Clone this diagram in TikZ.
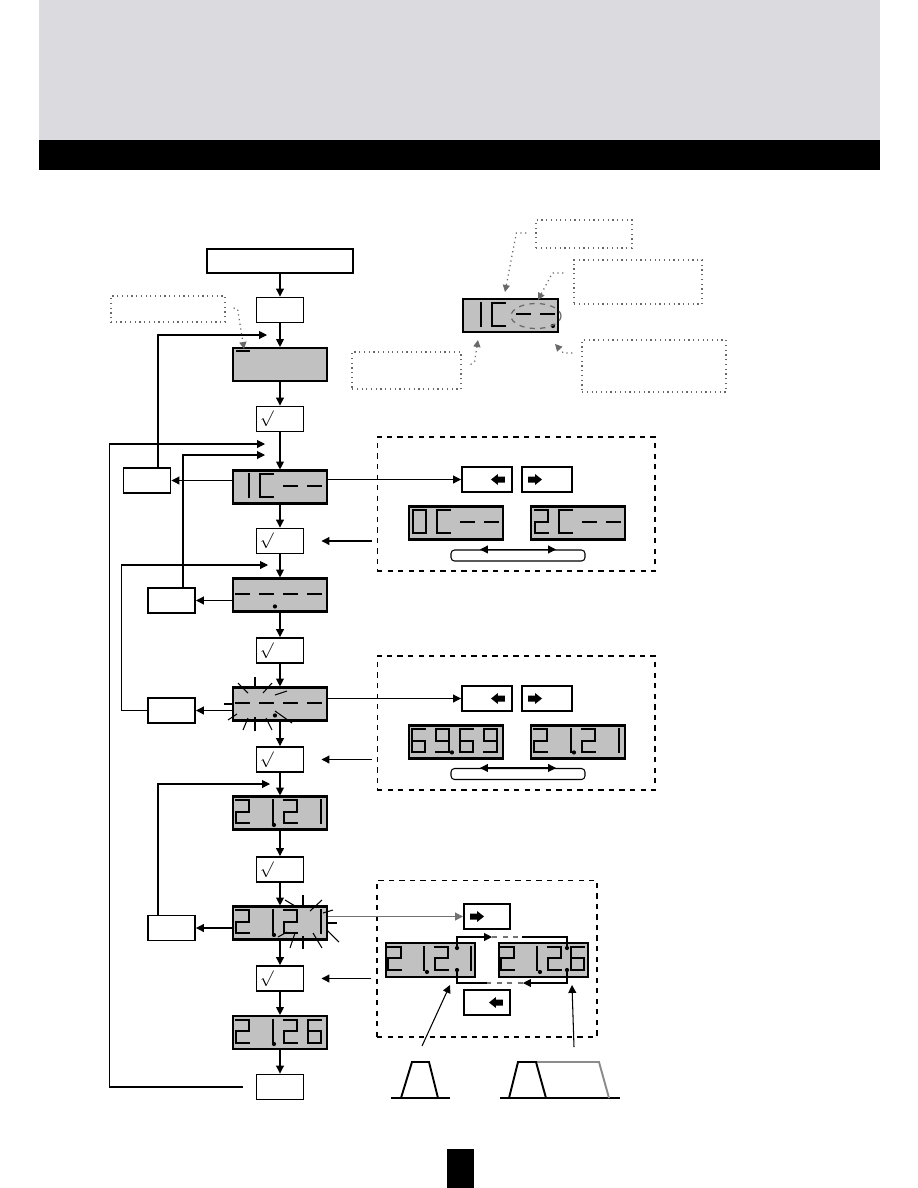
\documentclass[tikz,border=0pt]{standalone}
\usepackage{amsmath,amssymb}
\usetikzlibrary{positioning,calc}
\usetikzlibrary{arrows.meta}
\definecolor{HeadGray}{RGB}{219,219,223}
\definecolor{LcdGray}{RGB}{193,193,193}
\definecolor{NoteGray}{RGB}{105,105,105}
\tikzset{
  box/.style={draw=black,line width=1.1pt,fill=white,inner sep=0pt,minimum width=0.94cm,minimum height=0.5cm},
  ok/.style={box,text width=0.8cm,align=left,font=\small},
  key/.style={box,minimum width=1cm},
  lcd/.style={draw=black,line width=1.2pt,fill=LcdGray,inner sep=0pt,minimum width=1.88cm,minimum height=0.66cm},
  note/.style={draw=NoteGray,dotted,line width=0.7pt,inner sep=0pt},
  panel/.style={draw=black,dashed,line width=0.6pt,inner sep=0pt},
  pill/.style={draw=black,line width=0.6pt,rounded corners=2pt,inner sep=0pt,minimum width=2.68cm,minimum height=0.22cm},
}
\tikzset{arr/.style={draw=black,line width=0.6pt,-{Triangle[length=4.5pt,width=4.5pt]}}, dbl/.style={draw=black,line width=0.6pt,{Triangle[length=4.5pt,width=4.5pt]}-{Triangle[length=4.5pt,width=4.5pt]}},ptr/.style={draw=NoteGray,dotted,line width=0.7pt,-{Triangle[length=4pt,width=4pt]}},seg/.style={line width=1.1pt,line cap=rect},ray/.style={line width=0.6pt},dot/.style={circle,fill=black,inner sep=0pt,minimum size=2.4pt}}

\newcommand\lcdnum[7]{%
  \foreach \segs [count=\i from 0] in {{#4},{#5},{#6},{#7}}{%
    \begin{scope}[shift={($(#1.north west)+(#2+\i*#3,5)$)}]
      \coordinate (sa1) at (0,0);     \coordinate (sa2) at (13,0);
      \coordinate (sb1) at (13,0);    \coordinate (sb2) at (13,11.5);
      \coordinate (sc1) at (13,11.5); \coordinate (sc2) at (13,23);
      \coordinate (sd1) at (0,23);    \coordinate (sd2) at (13,23);
      \coordinate (se1) at (0,11.5);  \coordinate (se2) at (0,23);
      \coordinate (sf1) at (0,0);     \coordinate (sf2) at (0,11.5);
      \coordinate (sg1) at (0,11.5);  \coordinate (sg2) at (13,11.5);
      \foreach \s in \segs {\draw[seg] (s\s1) -- (s\s2);}
    \end{scope}}}
\newcommand\lcddot[3]{\fill ($(#1.north west)+(#2,#3)$) circle (1.2pt);}
\newcommand\leftkey[1]{\fill ($(#1.east)+(-22,0)$) -- ++(7,-5.5) -- ++(0,2.5) -- ++(7,0) -- ++(0,6) -- ++(-7,0) -- ++(0,2.5) -- cycle;}
\newcommand\rightkey[1]{\fill ($(#1.west)+(21,0)$) -- ++(-7,-5.5) -- ++(0,2.5) -- ++(-7,0) -- ++(0,6) -- ++(7,0) -- ++(0,2.5) -- cycle;}

\begin{document}
\begin{tikzpicture}[x=0.02cm,y=-0.02cm]
\useasboundingbox (0,0) rectangle (918,1188);
\fill[HeadGray] (39,0) rectangle (880,140);
\fill[black] (39,140) rectangle (880,170);
\fill[black] (447,1149) rectangle (474,1188);

\node[box,minimum width=2.92cm,minimum height=0.48cm] (start) at (280,261) {};
\node[box] (menu) at (280,310) {};
\node[lcd] (lcdA) at (280,364.5) {};
\node[ok] (okA) at (280,419) {$\surd$};
\node[lcd] (lcdB) at (280,487) {};
\node[ok] (okB) at (280,541) {$\surd$};
\node[lcd] (lcdC) at (280,595) {};
\node[ok] (okC) at (280,650.5) {$\surd$};
\node[lcd] (lcdD) at (280,704) {};
\node[ok] (okD) at (280,759.5) {$\surd$};
\node[lcd] (lcdE) at (280,813) {};
\node[ok] (okE) at (280,869.5) {$\surd$};
\node[lcd] (lcdF) at (280,923) {};
\node[ok] (okF) at (280,978.5) {$\surd$};
\node[lcd] (lcdG) at (280,1032.5) {};
\node[box] (stop) at (280,1087) {};
\node[box] (escB) at (147,480.5) {};
\node[box] (escC) at (171.5,600.5) {};
\node[box] (escD) at (171.5,710.5) {};
\node[box] (escF) at (171.5,928) {};

\foreach \a/\b in {start/menu,menu/lcdA,lcdA/okA,okA/lcdB,lcdB/okB,okB/lcdC,lcdC/okC,okC/lcdD,lcdD/okD,okD/lcdE,lcdE/okE,okE/lcdF,lcdF/okF,okF/lcdG,lcdG/stop}
  \draw[arr] (\a) -- (\b);
\draw[arr] (lcdB.west |- escB) -- (escB.east);
\draw[arr] (lcdC.west |- escC) -- (escC.east);
\draw[arr] (lcdD.west |- escD) -- (escD.east);
\draw[arr] (lcdF.west |- escF) -- (escF.east);

\coordinate (backA) at (267,335);
\coordinate (backB) at (265,455);
\coordinate (backC) at (268,565);
\coordinate (backD) at (270,784);
\coordinate (backS) at (265,444);
\draw[arr] ($(escB.north)+(11,0)$) |- (backA);
\draw[arr] ($(escC.north)+(11.5,0)$) |- (backB);
\draw[arr] (escD.west) -- ++(-26,0) |- (backC);
\draw[arr] ($(escF.north)+(-13.5,0)$) |- (backD);
\draw[arr] ($(stop.west)+(-13,0)$) -- ++(-133,0) |- (backS);

\draw[seg] ($(lcdA.north west)+(5,4)$) -- ++(12,0);
\lcdnum{lcdB}{4}{24}{b,c}{a,f,e,d}{g}{g}
\lcdnum{lcdC}{4}{24}{g}{g}{g}{g}
\lcddot{lcdC}{43}{29}
\lcdnum{lcdD}{4}{24}{g}{g}{g}{g}
\lcddot{lcdD}{43}{29}
\lcdnum{lcdE}{4}{24}{a,b,g,e,d}{b,c}{a,b,g,e,d}{b,c}
\lcddot{lcdE}{42}{29.5}
\lcdnum{lcdF}{4}{24}{a,b,g,e,d}{b,c}{a,b,g,e,d}{b,c}
\lcddot{lcdF}{42}{29.5}
\lcdnum{lcdG}{4}{24}{a,b,g,e,d}{b,c}{a,b,g,e,d}{a,f,g,e,d,c}
\lcddot{lcdG}{42}{29}

\foreach \xa/\ya/\xb/\yb in {238/683/248/693,255/677/255/689,272/683/263/693,275/695/287/691,224/704/233/704,228/720/237/714,243/730/248/718,255/731/255/717,266/718/272/730,275/711/292/723}
  \draw[ray] (\xa,\ya) -- (\xb,\yb);
\foreach \xa/\ya/\xb/\yb in {285/900/295/906,303/895/303/908,322/900/310/911,323/913/333/910,327/923/337/923,327/930/339/942,313/933/322/948,303/936/303/949,295/933/290/948,287/932/278/937}
  \draw[ray] (\xa,\ya) -- (\xb,\yb);

\node[panel,minimum width=5.56cm,minimum height=2.68cm] (panelA) at (516,504) {};
\node[panel,minimum width=5.56cm,minimum height=2.68cm] (panelB) at (516,723) {};
\node[panel,minimum width=4.4cm,minimum height=3.14cm] (panelC) at (487,958.5) {};

\node[key] (keyLA) at (487,479.5) {};
\node[key] (keyRA) at (547,479.5) {};
\node[key] (keyLB) at (487,698.5) {};
\node[key] (keyRB) at (547,698.5) {};
\node[key,minimum width=0.92cm] (keyRC) at (487,916.5) {};
\node[key,minimum width=0.92cm] (keyLC) at (487,1002.5) {};
\leftkey{keyLA}
\rightkey{keyRA}
\leftkey{keyLB}
\rightkey{keyRB}
\rightkey{keyRC}
\leftkey{keyLC}

\draw[arr] (lcdB.east |- keyLA) -- (keyLA.west);
\draw[arr] (lcdD.east |- keyLB) -- (keyLB.west);
\draw[arr,draw=black!55] (lcdF.east |- keyRC) -- (keyRC.west);
\draw[arr] ($(panelA.west |- okB)+(-5,0)$) -- ($(okB.east)+(17,0)$);
\draw[arr] ($(panelB.west |- okD)+(-5,0)$) -- ($(okD.east)+(17,0)$);
\draw[arr] ($(panelC.west |- okF)+(-5,0)$) -- ($(okF.east)+(17,0)$);

\node[lcd] (lcdA0) at (456,523) {};
\node[lcd] (lcdA2) at (578,523) {};
\node[pill] (pillA) at (518,555.5) {};
\draw[dbl] ($(pillA.north)+(-38,0)$) -- ($(pillA.north)+(38,0)$);
\lcdnum{lcdA0}{5}{24}{a,b,c,d,e,f}{a,f,e,d}{g}{g}
\lcdnum{lcdA2}{5}{24}{a,b,g,e,d}{a,f,e,d}{g}{g}

\node[lcd] (lcdB6) at (456,742) {};
\node[lcd] (lcdB2) at (578,742) {};
\node[pill] (pillB) at (518,774) {};
\draw[dbl] ($(pillB.north)+(-38,0)$) -- ($(pillB.north)+(38,0)$);
\lcdnum{lcdB6}{4}{24}{a,f,g,e,d,c}{a,b,c,d,f,g}{a,f,g,e,d,c}{a,b,c,d,f,g}
\lcddot{lcdB6}{44}{28}
\lcdnum{lcdB2}{4}{24}{a,b,g,e,d}{b,c}{a,b,g,e,d}{b,c}
\lcddot{lcdB2}{44}{28}

\node[lcd,minimum width=1.78cm,minimum height=0.68cm] (lcdCx) at (430.5,960) {};
\node[lcd,minimum width=1.78cm,minimum height=0.68cm] (lcdCy) at (543.5,960) {};
\lcdnum{lcdCx}{3}{23.5}{a,b,g,e,d}{b,c}{a,b,g,e,d}{b,c}
\lcddot{lcdCx}{42}{30}
\lcdnum{lcdCy}{3}{23.5}{a,b,g,e,d}{b,c}{a,b,g,e,d}{a,f,g,e,d,c}
\lcddot{lcdCy}{42}{30}
\node[dot] (xt) at (457,948) {};
\node[dot] (xb) at (457,970) {};
\node[dot] (yt) at (567,948) {};
\node[dot] (yb) at (567,970) {};
\coordinate (t1) at (492,937);
\coordinate (t2) at (522,937);
\coordinate (b1) at (523,983);
\coordinate (b2) at (487,983);
\draw[arr] (xt.center) |- (t1);
\draw[black!55,dashed,line width=0.6pt] (t1) -- (t2);
\draw[line width=0.6pt] (t2) -| (yt.center);
\draw[arr] (yb.center) |- (b1);
\draw[black!55,dashed,line width=0.6pt] (b1) -- (b2);
\draw[line width=0.6pt] (b2) -| (xb.center);

\coordinate (pulseA) at (422,1046);
\coordinate (hitA) at (450,985);
\coordinate (pulseB) at (574,1047);
\coordinate (hitB) at (572,985);
\draw[arr] (pulseA) -- (hitA);
\draw[arr] (pulseB) -- (hitB);
\draw[line width=1.1pt] (391,1098) -- (450,1098);
\draw[line width=1.1pt] (401,1098) -- (412,1062) -- (429,1062) -- (438,1098);
\draw[line width=1.1pt] (500,1098) -- (620,1098);
\draw[black!45,line width=1.1pt] (536,1062) -- (599,1062) -- (609,1098);
\draw[line width=1.1pt] (509,1098) -- (518,1062) -- (536,1062) -- (546,1098);

\node[lcd,minimum width=1.9cm] (lcdT) at (510.5,315.5) {};
\lcdnum{lcdT}{6}{24.3}{b,c}{a,f,e,d}{g}{g}
\lcddot{lcdT}{91}{28}
\draw[NoteGray,dashed,line width=0.7pt] (536,316) ellipse (0.5cm and 0.25cm);

\node[note,minimum width=2.28cm,minimum height=0.52cm] (noteL) at (168,309) {};
\node[note,minimum width=1.92cm,minimum height=0.56cm] (noteA) at (584,234) {};
\node[note,minimum width=2.56cm,minimum height=0.88cm] (noteB) at (638,282) {};
\node[note,minimum width=2.88cm,minimum height=1.04cm] (noteC) at (654,366) {};
\node[note,minimum width=2.18cm,minimum height=0.74cm] (noteD) at (406.5,370.5) {};
\coordinate (cursor) at (244,349);
\coordinate (digitT) at (505,292);
\coordinate (dashT) at (538,300);
\coordinate (dotT) at (555,344);
\coordinate (frameT) at (478,340);
\draw[ptr] ($(noteL.east)+(8,-1)$) -- ++(4,1) -- (cursor);
\draw[ptr] ($(noteA.west)+(-9,-1)$) -- ++(-10,0) -- (digitT);
\draw[ptr] ($(noteB.west)+(-10,-9)$) -- ++(-11,0) -- (dashT);
\draw[ptr] ($(noteC.west)+(-9,-13)$) -- ++(-9,0) -- (dotT);
\draw[ptr] ($(noteD.east)+(9,-6)$) -- ++(4,-3) -- (frameT);
\end{tikzpicture}
\end{document}
